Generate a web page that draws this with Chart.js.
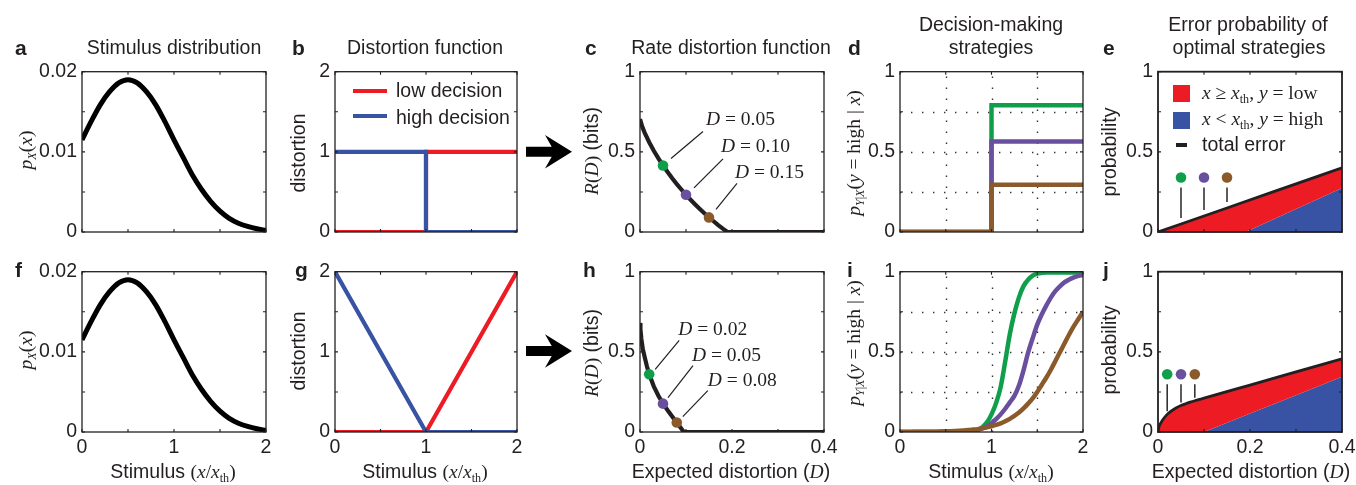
<!DOCTYPE html>
<html lang="en">
<head>
<meta charset="utf-8">
<title>Rate distortion and decision strategies</title>
<script src="https://cdn.jsdelivr.net/npm/chart.js"></script>
<style>
  html, body { margin: 0; padding: 0; background: #fff; }
  #fig { position: relative; width: 1356px; height: 485px; overflow: hidden;
         font-family: "Liberation Sans", Arial, Helvetica, sans-serif; color: #231f20; }
  #fig canvas { position: absolute; }
  .t { position: absolute; white-space: nowrap; line-height: 1; font-size: 19.5px;
       transform: translate(-50%, -50%); z-index: 5; }
  .left { transform: translate(0, -50%); }
  .rot { transform: translate(-50%, -50%) rotate(-90deg); }
  .letter { font-weight: bold; font-size: 21px; }
  .serif { font-family: "Liberation Serif", "Times New Roman", serif; }
  .t sub { font-size: 0.62em; vertical-align: -0.28em; line-height: 0; }
  .swatch { position: absolute; z-index: 5; }
  #arrows { position: absolute; left: 0; top: 0; z-index: 6; }
</style>
</head>
<body>
<div id="fig"></div>
<script>
// ---- data ----
// a, f: stimulus distribution
const stimX = [0, 0.1, 0.2, 0.3, 0.4, 0.5, 0.6, 0.7, 0.8, 0.9, 1.0, 1.1, 1.2, 1.3, 1.4, 1.5, 1.6, 1.7, 1.8, 1.9, 2.0];
const stimP = [0.0115, 0.0138, 0.0159, 0.0175, 0.0186, 0.0190, 0.0186, 0.0175, 0.0159, 0.0138, 0.0115,
               0.0093, 0.0071, 0.0053, 0.0038, 0.0026, 0.0017, 0.0011, 0.0007, 0.0004, 0.0002];
const stimYLabels = [0, 0.01, 0.02];
const stimXLabels = [0, 1, 2];

// b: step distortion
const stepX = [0, 1, 1, 2];
const stepLow = [0, 0, 1, 1];
const stepHigh = [1, 1, 0, 0];
// g: linear distortion
const linX = [0, 1, 2];
const linLow = [0, 0, 2];
const linHigh = [2, 0, 0];
const distYLabels = [0, 1, 2];

// c: rate distortion (step distortion)
const cD = [0, 0.005, 0.01, 0.02, 0.03, 0.04, 0.05, 0.06, 0.07, 0.08, 0.09, 0.10, 0.11, 0.12, 0.13, 0.14, 0.15, 0.16, 0.17, 0.18, 0.19, 0.4];
const cR = [0.705, 0.656, 0.620, 0.560, 0.507, 0.459, 0.415, 0.374, 0.335, 0.299, 0.265, 0.232, 0.201, 0.172, 0.144, 0.117, 0.091, 0.067, 0.043, 0.021, 0, 0];
const cDotD = [0.05, 0.10, 0.15];
const cDotR = [0.415, 0.232, 0.091];
const cDotText = ['0.05', '0.10', '0.15'];
// h: rate distortion (linear distortion)
const hD = [0, 0.001, 0.003, 0.006, 0.01, 0.015, 0.02, 0.03, 0.04, 0.05, 0.06, 0.07, 0.08, 0.09, 0.095, 0.4];
const hR = [0.68, 0.64, 0.58, 0.52, 0.47, 0.41, 0.36, 0.285, 0.226, 0.177, 0.136, 0.097, 0.059, 0.021, 0, 0];
const hDotD = [0.02, 0.05, 0.08];
const hDotR = [0.36, 0.177, 0.059];
const hDotText = ['0.02', '0.05', '0.08'];
const rateYLabels = [0, 0.5, 1];
const rateXLabels = [0, 0.2, 0.4];

// d: step strategies
const dX = [0, 1, 1, 2];
const dGreen = [0, 0, 0.79, 0.79];
const dPurple = [0, 0, 0.565, 0.565];
const dBrown = [0, 0, 0.295, 0.295];
// i: soft strategies
const iX = [0, 0.05, 0.1, 0.15, 0.2, 0.25, 0.3, 0.35, 0.4, 0.45, 0.5, 0.55, 0.6, 0.65, 0.7, 0.75, 0.8, 0.85, 0.9, 0.95, 1.0,
            1.05, 1.1, 1.15, 1.2, 1.25, 1.3, 1.35, 1.4, 1.45, 1.5, 1.55, 1.6, 1.65, 1.7, 1.75, 1.8, 1.85, 1.9, 1.95, 2.0];
const iGreen = [0, 0, 0, 0, 0, 0, 0, 0, 0, 0, 0, 0, 0.001, 0.001, 0.002, 0.003, 0.005, 0.012, 0.03, 0.06, 0.11,
                0.18, 0.28, 0.44, 0.61, 0.74, 0.84, 0.91, 0.95, 0.975, 0.988, 0.993, 0.995, 0.995, 0.995, 0.995, 0.995, 0.995, 0.995, 0.995, 0.995];
const iPurple = [0, 0, 0, 0, 0, 0, 0, 0, 0, 0.001, 0.001, 0.002, 0.002, 0.003, 0.004, 0.006, 0.009, 0.014, 0.022, 0.035, 0.055,
                 0.08, 0.11, 0.145, 0.185, 0.225, 0.29, 0.385, 0.495, 0.585, 0.67, 0.735, 0.79, 0.84, 0.88, 0.91, 0.935, 0.952, 0.965, 0.974, 0.98];
const iBrown = [0, 0, 0, 0.001, 0.001, 0.001, 0.001, 0.002, 0.002, 0.003, 0.004, 0.005, 0.0064, 0.008, 0.01, 0.012, 0.015, 0.018, 0.023, 0.029, 0.036,
                0.044, 0.054, 0.067, 0.082, 0.1, 0.121, 0.147, 0.177, 0.21, 0.25, 0.295, 0.34, 0.39, 0.445, 0.5, 0.555, 0.61, 0.66, 0.705, 0.75];
const stratYLabels = [0, 0.5, 1];

// e: error probability (step distortion)
const eD = [0, 0.02, 0.05, 0.1, 0.15, 0.19, 0.25, 0.3, 0.35, 0.4];
const eTotal = [0, 0.02, 0.05, 0.1, 0.15, 0.19, 0.25, 0.3, 0.35, 0.4];
const eBlue = [0, 0.002, 0.004, 0.005, 0.004, 0, 0.078, 0.144, 0.209, 0.274];
const eDotD = [0.05, 0.10, 0.15];
const eDotLevel = [0.34, 0.34, 0.34];
// j: error probability (linear distortion)
const jD = [0, 0.002, 0.005, 0.01, 0.02, 0.03, 0.04, 0.05, 0.06, 0.07, 0.08, 0.09, 0.1, 0.2, 0.3, 0.4];
const jTotal = [0, 0.03, 0.05, 0.075, 0.11, 0.133, 0.151, 0.165, 0.176, 0.186, 0.195, 0.203, 0.211, 0.293, 0.375, 0.457];
const jBlue = [0, 0, 0.001, 0.002, 0.003, 0.003, 0.003, 0.003, 0.003, 0.002, 0.002, 0.001, 0, 0.115, 0.23, 0.345];
const jDotD = [0.02, 0.05, 0.08];
const jDotLevel = [0.36, 0.36, 0.36];
const probYLabels = [0, 0.5, 1];

// ---- styling ----
const SANS = '"Liberation Sans", Arial, Helvetica, sans-serif';
const SERIF = '"Liberation Serif", "Times New Roman", serif';
const INK = '#231f20';
const RED = '#ed1c24', BLUE = '#3953a4', GREEN = '#0f9f4b', PURPLE = '#6a4f9f', BROWN = '#8b5a2b';
const DOTS = [GREEN, PURPLE, BROWN];

const fig = document.getElementById('fig');

function pts(xs, ys) { return xs.map((x, i) => ({ x: x, y: ys[i] })); }

function interp(xs, ys, v) {
  for (let i = 1; i < xs.length; i++) {
    if (v <= xs[i]) return ys[i - 1] + (ys[i] - ys[i - 1]) * (v - xs[i - 1]) / (xs[i] - xs[i - 1]);
  }
  return ys[ys.length - 1];
}

// box, inward ticks, dotted grid, callouts
const framePlugin = {
  id: 'frame',
  beforeDatasetsDraw(chart, args, o) {
    if (!o.grid) return;
    const { ctx, chartArea: a, scales: { x, y } } = chart;
    ctx.save();
    ctx.strokeStyle = '#333';
    ctx.lineWidth = 1.4;
    ctx.setLineDash([1.4, 9.6]);
    o.grid.x.forEach(v => {
      const p = Math.round(x.getPixelForValue(v)) + 0.5;
      ctx.beginPath(); ctx.moveTo(p, a.bottom); ctx.lineTo(p, a.top); ctx.stroke();
    });
    o.grid.y.forEach(v => {
      const p = Math.round(y.getPixelForValue(v)) + 0.5;
      ctx.beginPath(); ctx.moveTo(a.left, p); ctx.lineTo(a.right, p); ctx.stroke();
    });
    ctx.restore();
  },
  afterDatasetsDraw(chart, args, o) {
    const { ctx, chartArea: a, scales: { x, y } } = chart;
    ctx.save();
    if (o.stems) {
      const s = o.stems;
      const meta = chart.getDatasetMeta(s.dataset);
      ctx.strokeStyle = '#333';
      ctx.lineWidth = 1.6;
      meta.data.forEach((pt, i) => {
        const d = chart.data.datasets[s.dataset].data[i].x;
        const yEnd = y.getPixelForValue(interp(s.curveX, s.curveY, d)) - s.gap;
        ctx.beginPath(); ctx.moveTo(pt.x, pt.y + 10); ctx.lineTo(pt.x, yEnd); ctx.stroke();
      });
    }
    if (o.notes) {
      const n = o.notes;
      const meta = chart.getDatasetMeta(n.dataset);
      ctx.strokeStyle = INK;
      ctx.fillStyle = INK;
      ctx.lineWidth = 1.2;
      ctx.textBaseline = 'middle';
      meta.data.forEach((pt, i) => {
        const off = n.offsets[i];
        ctx.beginPath(); ctx.moveTo(pt.x + off[0], pt.y + off[1]); ctx.lineTo(pt.x + off[2], pt.y + off[3]); ctx.stroke();
        ctx.font = 'italic 19.5px ' + SERIF;
        ctx.fillText('D', pt.x + off[4], pt.y + off[5]);
        const w = ctx.measureText('D').width;
        ctx.font = '19.5px ' + SERIF;
        ctx.fillText(' = ' + n.labels[i], pt.x + off[4] + w, pt.y + off[5]);
      });
    }
    ctx.strokeStyle = INK;
    ctx.lineWidth = o.border || 1.3;
    ctx.strokeRect(a.left, a.top, a.width, a.height);
    ctx.lineWidth = 1.1;
    ctx.beginPath();
    x.ticks.forEach(t => {
      const p = x.getPixelForValue(t.value);
      ctx.moveTo(p, a.bottom); ctx.lineTo(p, a.bottom - 3);
      ctx.moveTo(p, a.top); ctx.lineTo(p, a.top + 3);
    });
    y.ticks.forEach(t => {
      const p = y.getPixelForValue(t.value);
      ctx.moveTo(a.left, p); ctx.lineTo(a.left + 3, p);
      ctx.moveTo(a.right, p); ctx.lineTo(a.right - 3, p);
    });
    ctx.stroke();
    ctx.restore();
  }
};

function axis(min, max, step, labels, show, horizontal) {
  return {
    type: 'linear', min: min, max: max,
    ticks: {
      stepSize: step, autoSkip: false, display: show, padding: horizontal ? 4 : 5,
      color: INK, font: { family: SANS, size: 19.5 },
      callback: v => labels.some(l => Math.abs(l - v) < 1e-9) ? String(+v.toFixed(4)) : ''
    },
    grid: { display: false, drawTicks: false },
    border: { display: false },
    afterFit: s => { if (horizontal) s.height = 36; else s.width = 60; }
  };
}

const PAD = { l: 60, t: 14, r: 18, b: 36 };

function panel(rect, cfg) {
  const cv = document.createElement('canvas');
  cv.width = rect.w + PAD.l + PAD.r;
  cv.height = rect.h + PAD.t + PAD.b;
  cv.style.left = (rect.x - PAD.l) + 'px';
  cv.style.top = (rect.y - PAD.t) + 'px';
  fig.appendChild(cv);
  return new Chart(cv, {
    type: 'line',
    data: { datasets: cfg.datasets },
    options: {
      responsive: false, animation: false, events: [],
      layout: { padding: { top: PAD.t, right: PAD.r, left: 0, bottom: 0 } },
      elements: {
        point: { radius: 0 },
        line: { tension: 0, borderCapStyle: 'butt', borderJoinStyle: 'miter', fill: false }
      },
      scales: {
        x: axis(cfg.x[0], cfg.x[1], cfg.x[2], cfg.x[3], cfg.showX, true),
        y: axis(cfg.y[0], cfg.y[1], cfg.y[2], cfg.y[3], true, false)
      },
      plugins: { legend: { display: false }, tooltip: { enabled: false }, frame: cfg.frame || {} }
    },
    plugins: [framePlugin]
  });
}

function line(xs, ys, color, width, smooth) {
  return { data: pts(xs, ys), borderColor: color, borderWidth: width, clip: 0,
           cubicInterpolationMode: smooth ? 'monotone' : 'default' };
}
function dots(xs, ys) {
  return { data: pts(xs, ys), showLine: false, pointRadius: 5.3, pointBorderWidth: 0,
           pointBackgroundColor: DOTS, clip: false };
}
function errorSets(xs, total, blue, dotX, dotY, smooth) {
  return [
    line(xs, total, INK, 2.8, smooth),
    { data: pts(xs, total), borderWidth: 0, backgroundColor: RED, fill: 2, clip: 0,
      cubicInterpolationMode: smooth ? 'monotone' : 'default' },
    { data: pts(xs, blue), borderWidth: 0, backgroundColor: BLUE, fill: 'origin', clip: 0 },
    dots(dotX, dotY)
  ];
}

const TOP = 69, BOT = 269, H = 163;
const COLS = [{ x: 82, w: 184 }, { x: 335, w: 182 }, { x: 640, w: 184 }, { x: 900, w: 183 }, { x: 1158, w: 184 }];
function rect(col, rowTop) { return { x: COLS[col].x, w: COLS[col].w, y: rowTop, h: H }; }

const stimAxes = { x: [0, 2, 0.5, stimXLabels], y: [0, 0.02, 0.005, stimYLabels] };
const distAxes = { x: [0, 2, 0.5, stimXLabels], y: [0, 2, 0.5, distYLabels] };
const rateAxes = { x: [0, 0.4, 0.1, rateXLabels], y: [0, 1, 0.25, rateYLabels] };
const stratAxes = { x: [0, 2, 0.5, stimXLabels], y: [0, 1, 0.25, stratYLabels] };
const probAxes = { x: [0, 0.4, 0.1, rateXLabels], y: [0, 1, 0.25, probYLabels] };
const dotGrid = { x: [0.5, 1, 1.5], y: [0.25, 0.5, 0.75] };

// top row
panel(rect(0, TOP), Object.assign({ showX: false, datasets: [line(stimX, stimP, '#000', 5, true)] }, stimAxes));
panel(rect(1, TOP), Object.assign({ showX: false, datasets: [
  line(stepX, stepHigh, BLUE, 4.2), line(stepX, stepLow, RED, 4.2)] }, distAxes));
panel(rect(2, TOP), Object.assign({ showX: false, datasets: [
  dots(cDotD, cDotR), line(cD, cR, INK, 4.2)],
  frame: { notes: { dataset: 0, labels: cDotText,
    offsets: [[8, -7, 40, -34, 43, -46], [8, -7, 37, -36, 35, -48], [7, -8, 28, -34, 26, -45]] } } }, rateAxes));
panel(rect(3, TOP), Object.assign({ showX: false, datasets: [
  line(dX, dBrown, BROWN, 4.5), line(dX, dPurple, PURPLE, 4.5), line(dX, dGreen, GREEN, 4.5)],
  frame: { grid: dotGrid } }, stratAxes));
panel(rect(4, TOP), Object.assign({ showX: false, datasets: errorSets(eD, eTotal, eBlue, eDotD, eDotLevel, false),
  frame: { border: 1.8, stems: { dataset: 3, curveX: eD, curveY: eTotal, gap: 6 } } }, probAxes));

// bottom row
panel(rect(0, BOT), Object.assign({ showX: true, datasets: [line(stimX, stimP, '#000', 5, true)] }, stimAxes));
panel(rect(1, BOT), Object.assign({ showX: true, datasets: [
  line(linX, linHigh, BLUE, 4.2), line(linX, linLow, RED, 4.2)] }, distAxes));
panel(rect(2, BOT), Object.assign({ showX: true, datasets: [
  dots(hDotD, hDotR), line(hD, hR, INK, 4.2)],
  frame: { notes: { dataset: 0, labels: hDotText,
    offsets: [[6, -5, 30, -34, 29, -44], [5, -6, 30, -38, 29, -48], [6, -6, 31, -32, 31, -42]] } } }, rateAxes));
panel(rect(3, BOT), Object.assign({ showX: true, datasets: [
  line(iX, iBrown, BROWN, 4.5, true), line(iX, iPurple, PURPLE, 4.5, true), line(iX, iGreen, GREEN, 4.5, true)],
  frame: { grid: dotGrid } }, stratAxes));
panel(rect(4, BOT), Object.assign({ showX: true, datasets: errorSets(jD, jTotal, jBlue, jDotD, jDotLevel, true),
  frame: { border: 1.8, stems: { dataset: 3, curveX: jD, curveY: jTotal, gap: 3 } } }, probAxes));

// ---- text ----
function text(html, x, y, cls) {
  const el = document.createElement('div');
  el.className = 't ' + (cls || '');
  el.style.left = x + 'px';
  el.style.top = y + 'px';
  el.innerHTML = html;
  fig.appendChild(el);
}
function swatch(x, y, w, h, color) {
  const el = document.createElement('div');
  el.className = 'swatch';
  Object.assign(el.style, { left: x + 'px', top: y + 'px', width: w + 'px', height: h + 'px', background: color });
  fig.appendChild(el);
}

text('Stimulus distribution', 174, 48);
text('Distortion function', 425, 48);
text('Rate distortion function', 731, 48);
text('Decision-making', 991, 24.5);
text('strategies', 991, 48);
text('Error probability of', 1248, 24.5);
text('optimal strategies', 1249, 48);

[['a', 15, 46.7], ['b', 292, 46.7], ['c', 585, 46.7], ['d', 848, 46.7], ['e', 1103, 46.7],
 ['f', 15, 268.5], ['g', 295, 268.5], ['h', 583, 268.5], ['i', 847, 268.5], ['j', 1103, 268.5]]
  .forEach(l => text(l[0], l[1], l[2], 'left letter'));

const pLabel = '<span class="serif"><i>p</i><sub><i>X</i></sub>(<i>x</i>)</span>';
const rLabel = '<span class="serif"><i>R</i>(<i>D</i>)</span> (bits)';
const pyxLabel = '<span class="serif"><i>p</i><sub><i>Y</i>|<i>X</i></sub>(<i>y</i> = high | <i>x</i>)</span>';
const stimLabel = 'Stimulus <span class="serif">(<i>x</i>/<i>x</i><sub>th</sub>)</span>';
const expLabel = 'Expected distortion (<i class="serif">D</i>)';

text(pLabel, 25.5, 150, 'rot');
text(pLabel, 25.5, 350, 'rot');
text('distortion', 298.5, 152.5, 'rot');
text('distortion', 298.5, 351, 'rot');
text(rLabel, 592, 151, 'rot');
text(rLabel, 592, 352.5, 'rot');
text(pyxLabel, 853.5, 152.5, 'rot');
text(pyxLabel, 853.5, 342.5, 'rot');
text('probability', 1109.5, 151.7, 'rot');
text('probability', 1109.5, 350, 'rot');

text(stimLabel, 173, 471.5);
text(stimLabel, 425, 471.5);
text(expLabel, 731, 471.5);
text(stimLabel, 991, 471.5);
text(expLabel, 1251, 471.5);

// legend b
swatch(353, 88.7, 34, 4, RED);
swatch(353, 114.3, 34, 4, BLUE);
text('low decision', 396, 91, 'left');
text('high decision', 396, 117.5, 'left');

// legend e
swatch(1173, 85, 17, 17, RED);
swatch(1173, 111.7, 17, 17, BLUE);
swatch(1176, 143.3, 11.3, 3.3, INK);
text('<span class="serif"><i>x</i> &ge; <i>x</i><sub>th</sub>, <i>y</i> = low</span>', 1202, 93.3, 'left');
text('<span class="serif"><i>x</i> &lt; <i>x</i><sub>th</sub>, <i>y</i> = high</span>', 1202, 119, 'left');
text('total error', 1202, 145, 'left');

// arrows b -> c and g -> h
function arrowPoints(cy) {
  return [[526, cy - 5], [551.7, cy - 5], [545, cy - 16.7], [572, cy], [545, cy + 16.7], [551.7, cy + 5], [526, cy + 5]]
    .map(p => p[0] + ',' + p[1]).join(' ');
}
const svg = document.createElementNS('http://www.w3.org/2000/svg', 'svg');
svg.setAttribute('id', 'arrows');
svg.setAttribute('width', 1356);
svg.setAttribute('height', 485);
[151.7, 351].forEach(cy => {
  const pg = document.createElementNS('http://www.w3.org/2000/svg', 'polygon');
  pg.setAttribute('points', arrowPoints(cy));
  pg.setAttribute('fill', '#000');
  svg.appendChild(pg);
});
fig.appendChild(svg);
</script>
</body>
</html>
